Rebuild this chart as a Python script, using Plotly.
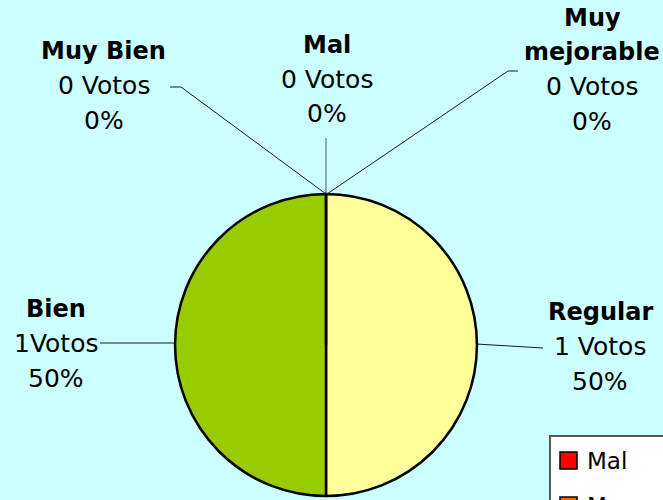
import plotly.graph_objects as go

# ---- data ----
labels = ["Mal", "Muy mejorable", "Regular", "Bien", "Muy Bien"]
votes = [0, 0, 1, 1, 0]
vote_sep = [" ", " ", " ", "", " "]
colors = ["#FF0000", "#FF6600", "#FFFF99", "#99CC00", "#339966"]

W, H = 663, 500
def px(x):
    return x / W
def py(y):
    return 1 - y / H

total = sum(votes)
pcts = [round(100 * v / total) for v in votes]

# ---- layout-only placement of data labels (pixel centres of first line) ----
label_pos = {
    "Mal": (327, 45),
    "Muy mejorable": (592, 18),
    "Regular": (600, 312),
    "Bien": (56, 309),
    "Muy Bien": (103.5, 51.5),
}
line_step = 34.5
leader = {
    "Mal": [(326, 138), (326, 194)],
    "Muy mejorable": [(518, 71), (508, 71), (327, 194)],
    "Regular": [(476, 344), (543, 348)],
    "Bien": [(100, 343), (176, 343)],
    "Muy Bien": [(170, 87), (181, 87), (326, 194)],
}

cx, cy, r = 326, 345, 151

fig = go.Figure()
fig.add_trace(go.Pie(
    labels=labels, values=votes, sort=False, direction="clockwise", rotation=0,
    marker=dict(colors=colors, line=dict(color="black", width=2.5)),
    textinfo="none", hoverinfo="skip", showlegend=False,
    domain=dict(x=[px(cx - r), px(cx + r)], y=[py(cy + r), py(cy - r)]),
))

annotations = []
shapes = []
FONT = "DejaVu Sans"
for i, lab in enumerate(labels):
    x0, y0 = label_pos[lab]
    name_lines = lab.split(" ") if lab == "Muy mejorable" else [lab]
    lines = [(f"<b>{n}</b>", 24) for n in name_lines]
    lines.append((f"{votes[i]}{vote_sep[i]}Votos", 25))
    lines.append((f"{pcts[i]}%", 25))
    for k, (t, fs) in enumerate(lines):
        annotations.append(dict(
            x=px(x0), y=py(y0 + k * line_step), xref="paper", yref="paper",
            text=t, showarrow=False, xanchor="center", yanchor="middle",
            font=dict(family=FONT, size=fs, color="black"),
        ))
    pts = leader[lab]
    path = "M " + " L ".join(f"{px(a)},{py(b)}" for a, b in pts)
    shapes.append(dict(type="path", xref="paper", yref="paper", path=path,
                       line=dict(color="#1a1a1a" if lab != "Mal" else "#4a5a5a", width=1)))

# ---- legend box (partly outside the canvas, as in the reference) ----
lx, ly = 550, 436
shapes.append(dict(type="rect", xref="paper", yref="paper",
                   x0=px(lx), x1=px(lx + 200), y0=py(ly), y1=py(ly + 240),
                   fillcolor="white", line=dict(color="#555555", width=2)))
for i, lab in enumerate(labels):
    sy = 452 + i * 45
    shapes.append(dict(type="rect", xref="paper", yref="paper",
                       x0=px(560), x1=px(577), y0=py(sy), y1=py(sy + 17),
                       fillcolor=colors[i], line=dict(color="black", width=1.5)))
    annotations.append(dict(
        x=px(585), y=py(sy + 9), xref="paper", yref="paper", text=lab,
        showarrow=False, xanchor="left", yanchor="middle",
        font=dict(family=FONT, size=23, color="black"),
    ))

fig.update_layout(
    width=W, height=H, margin=dict(l=0, r=0, t=0, b=0),
    paper_bgcolor="#CCFFFF", plot_bgcolor="#CCFFFF",
    annotations=annotations, shapes=shapes, showlegend=False,
)
fig.write_html(
    "out.html",
    config={"displayModeBar": False},
    post_script="document.body.style.margin='0';document.body.style.overflow='hidden';"
                "document.body.style.background='#CCFFFF';",
)
